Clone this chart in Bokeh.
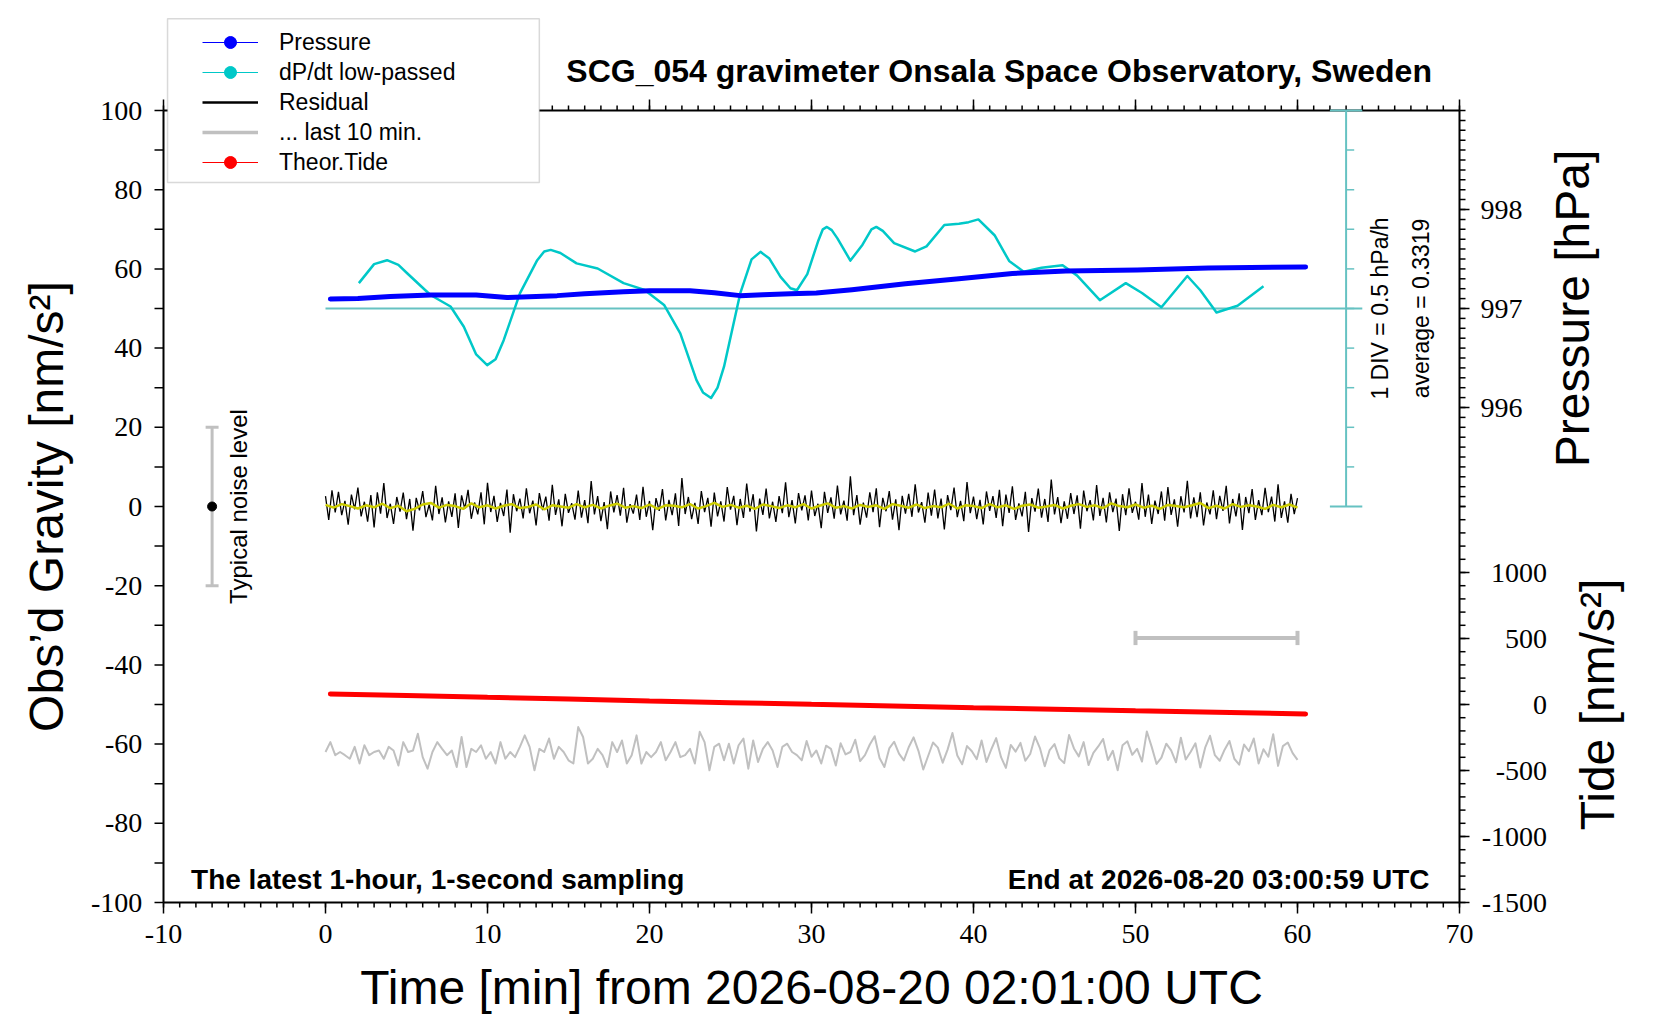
import numpy as np
from bokeh.plotting import figure
from bokeh.models import (Range1d, Label, LabelSet, ColumnDataSource,
                          Legend, LegendItem, BoxAnnotation)
from bokeh.embed import file_html
from bokeh.resources import INLINE

FONT = "Liberation Sans"

# air pressure [hPa], read at these minutes
press_t = [0.3, 2, 4, 6.5, 9.3, 11.2, 14.3, 16, 18.4, 20, 22.5, 24, 25.6, 27, 28.7,
           30.3, 32.5, 35.8, 39.1, 42.4, 45.7, 50.1, 54.5, 60.5]
press_hpa = [997.096, 997.10, 997.12, 997.136, 997.136, 997.11, 997.13, 997.15, 997.17,
             997.18, 997.18, 997.16, 997.13, 997.14, 997.15, 997.156, 997.19, 997.25,
             997.30, 997.354, 997.38, 997.39, 997.41, 997.42]

# dP/dt low-passed [hPa/h]
dpdt_t = [2.06, 3.0, 3.8, 4.5, 5.04, 6.48, 7.72, 8.54, 9.3, 9.98, 10.5, 11.0, 12.0, 13.07,
          13.5, 13.9, 14.5, 15.5, 16.8, 18.4, 19.7, 20.9, 21.9, 22.9, 23.3, 23.8, 24.2,
          24.6, 25.6, 26.3, 26.85, 27.4, 28.09, 28.7, 29.1, 29.74, 30.4, 30.7, 30.95,
          31.25, 31.6, 32.4, 33.15, 33.7, 34.0, 34.4, 35.1, 36.4, 37.1, 38.2, 39.1, 39.7,
          40.3, 41.3, 42.2, 43.1, 44.2, 45.5, 46.4, 47.8, 49.4, 50.4, 51.6, 53.2, 54.0,
          55.0, 56.3, 57.9]
dpdt = [0.32, 0.56, 0.61, 0.55, 0.445, 0.17, 0.025, -0.23, -0.58, -0.715, -0.64, -0.40,
        0.19, 0.61, 0.72, 0.74, 0.70, 0.57, 0.505, 0.32, 0.235, 0.045, -0.315, -0.905,
        -1.06, -1.13, -1.0, -0.735, 0.19, 0.62, 0.715, 0.63, 0.40, 0.255, 0.23, 0.435,
        0.845, 1.0, 1.03, 0.99, 0.885, 0.605, 0.805, 1.0, 1.03, 0.98, 0.825, 0.72, 0.785,
        1.055, 1.07, 1.09, 1.125, 0.925, 0.60, 0.465, 0.515, 0.545, 0.415, 0.105, 0.32,
        0.195, 0.015, 0.41, 0.23, -0.05, 0.035, 0.28]
dpdt_average = 0.3319

# residual gravity [nm/s^2], 0 .. 60 min
resid = [
    2.6, -3.4, 4.1, -1.5, 3.7, -2.2, 1.4, -4.6, 3.0, -0.7,
    4.8, -2.5, 1.2, -3.8, 2.9, -5.3, 3.6, -1.8, 5.9, -2.9,
    0.7, -4.4, 2.4, -1.3, 3.5, -3.2, 1.9, -6.1, 2.2, -1.0,
    3.9, -2.7, 0.5, -3.5, 5.2, -1.9, 2.3, -4.0, 1.3, -2.6,
    3.3, -5.4, 2.8, -0.6, 4.2, -3.1, 1.0, -2.0, 3.6, -4.5,
    6.0, -1.4, 2.7, -3.9, 0.9, -2.4, 4.3, -6.6, 3.1, -1.2,
    2.0, -3.0, 4.6, -1.7, 1.5, -4.8, 3.4, -0.9, 2.5, -3.6,
    5.5, -2.1, 1.8, -5.0, 3.2, -1.6, 0.8, -3.3, 4.0, -2.8,
    1.6, -4.2, 6.4, -2.0, 2.6, -3.7, 1.1, -5.7, 3.8, -1.5,
    2.9, -2.3, 4.7, -4.1, 0.6, -1.8, 3.0, -3.4, 5.0, -2.6,
    1.4, -6.0, 2.1, -1.1, 4.4, -3.5, 1.7, -2.2, 3.3, -4.9,
    7.2, -1.9, 2.4, -3.2, 0.9, -4.4, 3.9, -1.4, 2.2, -5.1,
    3.5, -2.5, 1.3, -3.8, 4.9, -0.8, 2.7, -4.7, 1.9, -2.9,
    5.8, -1.3, 3.1, -6.3, 2.0, -2.1, 4.5, -3.0, 1.2, -3.9,
    2.6, -1.7, 6.1, -2.7, 1.6, -4.3, 3.4, -1.0, 2.8, -3.5,
    4.0, -2.4, 0.7, -5.5, 3.7, -1.6, 2.3, -3.1, 5.3, -2.0,
    1.5, -3.6, 7.6, -2.2, 2.9, -4.6, 1.0, -2.8, 3.6, -1.4,
    4.6, -5.2, 2.2, -1.2, 3.9, -3.3, 1.8, -6.0, 2.7, -1.8,
    3.2, -2.6, 5.6, -1.5, 1.1, -4.1, 3.5, -2.3, 4.3, -3.0,
    2.0, -5.8, 2.9, -0.9, 4.8, -2.7, 1.4, -3.7, 6.2, -1.7,
    2.5, -3.2, 1.7, -4.5, 3.8, -1.1, 2.6, -2.9, 4.2, -5.0,
    3.0, -1.6, 5.1, -3.4, 0.8, -2.5, 3.7, -6.4, 2.1, -1.3,
    4.5, -2.8, 1.9, -3.9, 6.8, -2.0, 2.4, -4.2, 1.3, -3.1,
    3.4, -1.9, 2.8, -5.6, 4.0, -1.2, 1.6, -3.5, 5.4, -2.4,
    2.2, -4.0, 3.6, -1.4, 2.0, -6.2, 3.1, -2.2, 4.6, -1.6,
    1.2, -3.3, 5.9, -2.6, 3.0, -4.4, 1.5, -1.9, 3.8, -3.6,
    4.9, -2.1, 1.8, -5.1, 2.6, -1.5, 6.5, -3.0, 2.3, -2.7,
    3.6, -4.8, 1.0, -2.0, 4.1, -3.2, 2.7, -1.1, 5.2, -4.3,
    1.9, -2.5, 3.3, -5.9, 2.4, -1.7, 4.4, -3.4, 1.6, -2.2,
    4.7, -1.4, 2.5, -3.8, 5.6, -2.9, 1.3, -4.1, 3.2, -1.9,
    2.1]

# low-passed residual (yellow), 0 .. 60 min
resid_lp = [
    0.4, -0.3, 0.6, 0.1, -0.5, 0.3, -0.2, 0.7, -0.4, 0.2,
    -1.2, -0.6, 0.5, 0.9, -0.3, 0.4, 0.1, -0.6, 0.8, -0.2,
    0.3, -0.5, 0.2, 0.6, -0.4, -0.1, 0.5, -0.7, 0.3, 0.0,
    -0.3, 0.6, -0.2, 0.4, -0.5, 0.2, 0.7, -0.3, 0.1, -0.4,
    0.5, -0.6, 0.3, 0.2, -0.2, 0.6, -0.5, 0.1, 0.9, -0.1,
    0.4, -0.3, 0.2, -0.6, 0.5, 0.1, -0.4, 0.3, -0.2, 0.6,
    -0.5, 0.2, 0.8, -0.3, 0.1, -0.5, 0.4, -0.1, 0.3, -0.6,
    0.6, 0.2, -0.3, 0.5, -0.4, 0.1, -0.2, 0.7, -0.5, 0.3,
    0.1, -0.4, 0.6, -0.2, 0.3, -0.6, 0.2, 0.5, -0.3, 0.0,
    0.4, -0.5, 0.2, 0.6, -0.1, 0.3, -0.4, 0.8, 0.1, -0.2,
    0.5, -0.3, 0.2, -0.6, 0.4, 0.1, -0.2, 0.3, 0.9, -0.4,
    0.2, -0.5, 0.6, -0.1, 0.3, 0.0, -0.6, 0.4, -0.2, 0.5,
    -0.3]

# last 10 min of the residual, stretched over the full hour
last10 = [
    0.0, 2.5, -0.8, 0.0, -0.8, -1.7, 1.3, -2.9, 1.7, -0.8,
    0.0, 0.4, -1.7, 1.3, 0.4, -3.4, 2.5, 0.0, 0.4, 4.6,
    -1.3, -4.2, 0.0, 2.5, 0.8, -0.8, 0.4, -3.8, 3.8, -3.8,
    0.8, 0.0, 1.7, -1.7, 0.0, -2.9, 2.5, -1.7, 0.0, -1.3,
    1.3, 4.2, 1.3, -4.6, 0.8, 0.0, 3.4, -1.7, 1.3, 0.0,
    -2.1, -2.9, 6.3, 3.8, -2.9, -1.7, 0.8, -0.8, -3.8, 2.5,
    0.0, 2.9, -2.9, -0.8, 4.2, -2.9, 0.0, -1.3, 0.0, 2.5,
    -2.1, 0.0, 2.5, -1.3, -0.8, 0.8, -2.9, 5.1, 2.5, -4.6,
    1.3, 2.1, -2.1, 2.1, -2.9, 1.7, 3.4, -4.2, 2.9, -2.5,
    0.8, 2.5, 0.4, -3.8, 1.3, 2.1, 0.0, -0.8, -2.1,
    2.8, -1.2, 0.4, -2.9, 1.6, 0.8, -3.4, 2.2, -0.6, 0.0,
    3.1, -2.3, -0.8, 1.9, 4.0, -1.5, -3.8, 0.9, 2.6, -0.4,
    -2.1, 1.2, 3.7, 0.3, -4.4, -1.0, 2.4, 1.1, -2.7, 0.6,
    4.8, -0.9, -3.1, 1.5, 0.2, -1.8, 2.9, -2.5, 0.7, 3.5,
    -1.3, -4.0, 1.8, 0.1, 2.3, -2.2, -0.5, 3.9, 1.0, -3.6,
    0.5, 2.0, -1.6, -2.8, 4.3, 0.9, -1.1, 2.5, -3.3, -0.2,
    1.4, 3.3, -2.0, 0.3, -4.6, 1.7, 2.7, -0.7, 0.8, -2.4,
    5.2, 1.3, -3.0, -1.4, 2.1, 0.4, -2.6, 3.6, -1.9, 0.0,
    2.2, -3.9, 1.1, 4.1, -0.8, -2.2, 0.6, 2.8, -1.7, -3.2,
    1.9, 0.2, 3.4, -2.9, 0.7, -1.2, 4.5, -3.5, 1.5, 2.4,
    -0.3, -2.0]

# theoretical tide [nm/s^2]
tide_t = [0.3, 5, 10, 15, 20, 25, 30, 35, 40, 45, 50, 55, 60.5]
tide = [80, 68, 54, 41, 27, 14, 1, -11, -24, -36, -48, -59, -72]

noise_level = 20          # typical noise level, +/- nm/s^2
last10_window = [50, 60]  # the stretched last 10 minutes

x_ticks = list(range(-10, 71, 10))
x_minor = list(range(-10, 71))
y_ticks = list(range(-100, 101, 20))
y_minor = list(range(-100, 101, 10))
pres_ticks = [996, 997, 998]
pres_minor = [round(995 + 0.1 * k, 1) for k in range(41)]
tide_ticks = [1000, 500, 0, -500, -1000, -1500]
tide_minor = list(range(-1500, 1501, 100))
div_ticks = [-2.5, -2.0, -1.5, -1.0, -0.5, 0.0, 0.5, 1.0, 1.5, 2.0, 2.5]

# ---------------------------------------------------------------------------
# geometry: the plot box is 1296 x 792 px with its corner at (163, 110);
# the frame spans the whole canvas so that every scale, title and the
# legend around the box stay inside it and are not clipped
PX_MIN = 1296 / 80.0      # px per minute
PX_G = 792 / 200.0        # px per nm/s^2
W, H = 1650, 1016
x0, x1 = -10 - 163 / PX_MIN, -10 + (W - 163) / PX_MIN
y0, y1 = -100 - (H - 902) / PX_G, 100 + 110 / PX_G

p = figure(frame_width=W, frame_height=H,
           x_range=Range1d(x0, x1), y_range=Range1d(y0, y1),
           min_border=0, x_axis_location=None, y_axis_location=None,
           output_backend="svg", toolbar_location=None, tools="")
p.extra_y_ranges = {"pres": Range1d(995 + y0 / 25.0, 995 + y1 / 25.0),
                    "dpdt": Range1d((y0 - 50) / 20.0, (y1 - 50) / 20.0),
                    "tide": Range1d(1500 + 30.0 * y0, 1500 + 30.0 * y1)}
p.grid.visible = False
p.outline_line_color = None
p.background_fill_color = "white"
p.border_fill_color = "white"


# plot box with its ticks on all four sides
def seg(xa, ya, xb, yb, rng="default", w=1.5):
    p.segment(x0=xa, y0=ya, x1=xb, y1=yb, y_range_name=rng, line_color="black",
              line_width=w)

seg(-10, -100, 70, -100, w=2)
seg(-10, 100, 70, 100, w=2)
seg(-10, -100, -10, 100, w=2)
seg(70, -100, 70, 100, w=2)
seg(x_minor, -100, x_minor, -100 - 5 / PX_G)
seg(x_ticks, -100, x_ticks, -100 - 11 / PX_G)
seg(x_minor, 100, x_minor, 100 + 5 / PX_G)
seg(x_ticks, 100, x_ticks, 100 + 11 / PX_G)
seg(-10 - 9 / PX_MIN, y_minor, -10, y_minor)
seg(70, pres_minor, 70 + 6 / PX_MIN, pres_minor, "pres")
seg(70, pres_ticks, 70 + 10 / PX_MIN, pres_ticks, "pres")
seg(70, tide_minor, 70 + 6 / PX_MIN, tide_minor, "tide")
seg(70, tide_ticks, 70 + 10 / PX_MIN, tide_ticks, "tide")

tick_font = dict(text_font=FONT, text_font_size="28px", text_color="black",
                 text_baseline="middle")
p.add_layout(LabelSet(x="x", y=-108.0, text="t", text_align="center",
                      source=ColumnDataSource(dict(x=x_ticks, t=[str(v) for v in x_ticks])),
                      **tick_font))
p.add_layout(LabelSet(x=-11.31, y="y", text="t", text_align="right",
                      source=ColumnDataSource(dict(y=y_ticks, t=[str(v) for v in y_ticks])),
                      **tick_font))
p.add_layout(LabelSet(x=71.3, y="y", text="t", y_range_name="pres", text_align="left",
                      source=ColumnDataSource(dict(y=pres_ticks, t=[str(v) for v in pres_ticks])),
                      **tick_font))
p.add_layout(LabelSet(x=75.4, y="y", text="t", y_range_name="tide", text_align="right",
                      source=ColumnDataSource(dict(y=tide_ticks, t=[str(v) for v in tide_ticks])),
                      **tick_font))

# ---------------------------------------------------------------------------
teal = "#66c2c2"
cyan = "#00c8c8"
gray = "#c0c0c0"

# dP/dt scale (1 DIV = 0.5 hPa/h) and its zero line
p.segment(x0=0, y0=0, x1=64, y1=0, y_range_name="dpdt", line_color=teal, line_width=2)
p.segment(x0=63, y0=div_ticks[0], x1=63, y1=div_ticks[-1], y_range_name="dpdt",
          line_color=teal, line_width=2)
p.segment(x0=63, y0=div_ticks[1:-1], x1=63.5, y1=div_ticks[1:-1], y_range_name="dpdt",
          line_color=teal, line_width=1.5)
p.segment(x0=62, y0=[div_ticks[0], div_ticks[-1]], x1=64, y1=[div_ticks[0], div_ticks[-1]],
          y_range_name="dpdt", line_color=teal, line_width=2)

p.line(dpdt_t, dpdt, y_range_name="dpdt", line_color=cyan, line_width=2.5, line_join="round")
p.line(press_t, press_hpa, y_range_name="pres", line_color="blue", line_width=5,
       line_cap="round", line_join="round")

p.line(np.linspace(0, 60, len(resid)), resid, line_color="black", line_width=1.3)
p.line(np.linspace(0, 60, len(resid_lp)), resid_lp, line_color="#cccc00", line_width=2.5)

# last 10 minutes, offset below and stretched over the hour
p.line(np.linspace(0, 60, len(last10)), np.array(last10) - 62, line_color=gray,
       line_width=2, line_join="round")
p.segment(x0=last10_window[0], y0=-33.2, x1=last10_window[1], y1=-33.2,
          line_color=gray, line_width=4)
p.segment(x0=last10_window, y0=-35, x1=last10_window, y1=-31.4, line_color=gray, line_width=4)

p.line(tide_t, tide, y_range_name="tide", line_color="red", line_width=5, line_cap="round")

# typical noise level bar
p.segment(x0=-7, y0=-noise_level, x1=-7, y1=noise_level, line_color=gray, line_width=3)
p.segment(x0=-7.4, y0=[-noise_level, noise_level], x1=-6.6, y1=[-noise_level, noise_level],
          line_color=gray, line_width=3)
p.scatter([-7], [0], size=9, color="black")

# ---------------------------------------------------------------------------
def text(x, y, s, size, **kw):
    p.add_layout(Label(x=x, y=y, text=s, text_font=FONT, text_font_size=size,
                       text_color="black", **kw))

vert = dict(angle=np.pi / 2, text_align="center", text_baseline="middle")
text(-5.4, 0, "Typical noise level", "24px", **vert)
text(65.1, 50, "1 DIV = 0.5 hPa/h", "23px", **vert)
text(67.6, 50, "average = %.4f" % dpdt_average, "23px", **vert)
text(-8.3, -94.1, "The latest 1-hour, 1-second sampling", "28px",
     text_font_style="bold", text_align="left", text_baseline="middle")
text(68.15, -94.1, "End at 2026-08-20 03:00:59 UTC", "28px",
     text_font_style="bold", text_align="right", text_baseline="middle")
text(68.3, 109.85, "SCG_054 gravimeter Onsala Space Observatory, Sweden", "32px",
     text_font_style="bold", text_align="right", text_baseline="middle")
text(-17.25, 0, "Obs’d Gravity [nm/s²]", "48px", **vert)
text(77.0, 50, "Pressure [hPa]", "48px", **vert)
text(78.5, -50, "Tide [nm/s²]", "48px", **vert)
text(30.0, -121.4, "Time [min] from 2026-08-20 02:01:00 UTC", "48px",
     text_align="center", text_baseline="middle")

# legend box and legend
p.add_layout(BoxAnnotation(left=-9.75, right=13.2, bottom=81.8, top=123.2,
                           fill_color="white", fill_alpha=1.0,
                           line_color="#808080", line_width=1.5, level="overlay"))

# legend keys: one-sample renderers kept outside the visible x range
kx, ky = [-200, -199], [0, 0]
lp = p.line(kx, ky, line_color="blue", line_width=1)
sp = p.scatter(kx[:1], ky[:1], size=8, color="blue")
lc = p.line(kx, ky, line_color=cyan, line_width=1)
sc = p.scatter(kx[:1], ky[:1], size=8, color=cyan)
lr = p.line(kx, ky, line_color="black", line_width=2.5)
lg = p.line(kx, ky, line_color=gray, line_width=3.5)
lt = p.line(kx, ky, line_color="red", line_width=1)
st = p.scatter(kx[:1], ky[:1], size=8, color="red")

legend = Legend(items=[LegendItem(label="Pressure", renderers=[lp, sp]),
                       LegendItem(label="dP/dt low-passed", renderers=[lc, sc]),
                       LegendItem(label="Residual", renderers=[lr]),
                       LegendItem(label="... last 10 min.", renderers=[lg]),
                       LegendItem(label="Theor.Tide", renderers=[lt, st])],
                location=(163 + 39, H - 177), orientation="vertical",
                label_text_font=FONT, label_text_font_size="23px",
                label_text_color="black",
                glyph_width=56, glyph_height=30, label_height=30,
                label_standoff=21, spacing=0, padding=7, margin=0,
                border_line_color=None, background_fill_alpha=0.0, level="overlay")
p.add_layout(legend, "center")

open("out.html", "w").write(file_html(p, INLINE))
